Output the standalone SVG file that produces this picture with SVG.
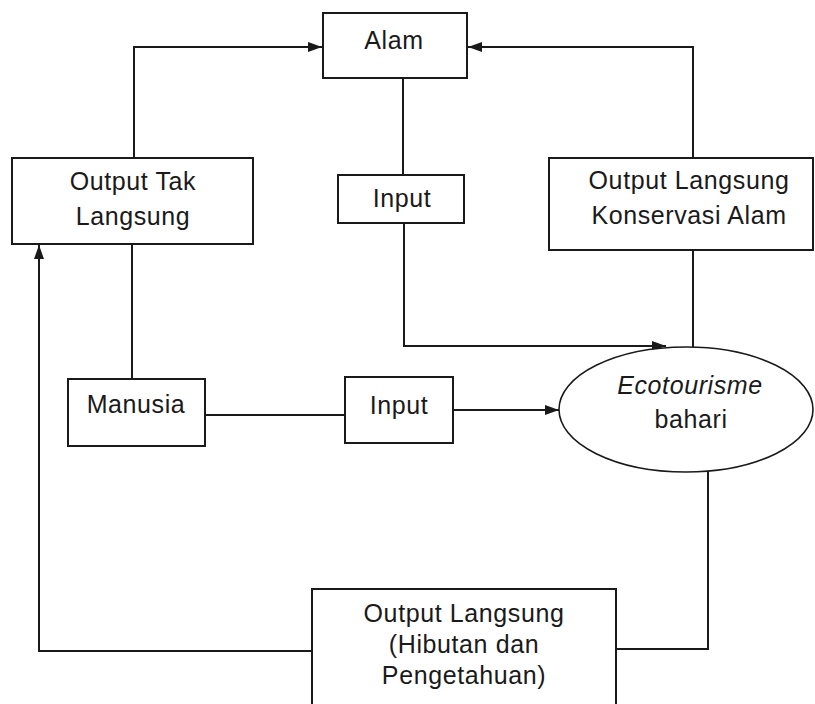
<svg xmlns="http://www.w3.org/2000/svg" width="815" height="704" viewBox="0 0 815 704">
<style>
.box{fill:#fff;stroke:#1a1a1a;stroke-width:2}
.ln{fill:none;stroke:#1a1a1a;stroke-width:2}
text{font-family:"Liberation Sans",Arial,sans-serif;font-size:25px;fill:#1a1a1a;text-anchor:middle;letter-spacing:0.6px}
</style>
<defs>
<marker id="ah" viewBox="0 0 14 10" refX="14" refY="5" markerWidth="14" markerHeight="10" markerUnits="userSpaceOnUse" orient="auto">
<path d="M0,0 L14,5 L0,10 Z" fill="#1a1a1a"/>
</marker>
</defs>
<rect width="815" height="704" fill="#fff"/>
<g id="connectors">
<polyline class="ln" points="134,158 134,47 322,47" marker-end="url(#ah)"/>
<polyline class="ln" points="693,158 693,47 468,47" marker-end="url(#ah)"/>
<line class="ln" x1="403" y1="78" x2="403" y2="175"/>
<polyline class="ln" points="404,223 404,346 666,346" marker-end="url(#ah)"/>
<line class="ln" x1="693" y1="250" x2="693" y2="348"/>
<line class="ln" x1="132" y1="244" x2="132" y2="379"/>
<line class="ln" x1="205" y1="415" x2="345" y2="415"/>
<line class="ln" x1="453" y1="410" x2="559" y2="410" marker-end="url(#ah)"/>
<polyline class="ln" points="708,471 708,649 616,649"/>
<polyline class="ln" points="312,651 39,651 39,245" marker-end="url(#ah)"/>
</g>
<g id="alam">
<rect class="box" x="323" y="13" width="144" height="65"/>
<text x="394" y="49">Alam</text>
</g>
<g id="input-top">
<rect class="box" x="338" y="175" width="126" height="48"/>
<text x="402" y="207">Input</text>
</g>
<g id="output-tak-langsung">
<rect class="box" x="12" y="158" width="241" height="86"/>
<text x="133" y="190">Output Tak</text>
<text x="133" y="225">Langsung</text>
</g>
<g id="output-konservasi">
<rect class="box" x="549" y="158" width="264" height="92"/>
<text x="689" y="189">Output Langsung</text>
<text x="689" y="224">Konservasi Alam</text>
</g>
<g id="manusia">
<rect class="box" x="68" y="379" width="137" height="67"/>
<text x="136" y="413">Manusia</text>
</g>
<g id="input-mid">
<rect class="box" x="345" y="377" width="108" height="66"/>
<text x="399" y="414">Input</text>
</g>
<g id="ecotourisme">
<ellipse cx="686" cy="409.5" rx="127" ry="62.5" fill="#fff" stroke="#1a1a1a" stroke-width="1.6"/>
<text x="690" y="394" font-style="italic">Ecotourisme</text>
<text x="691" y="428">bahari</text>
</g>
<g id="output-langsung-bottom">
<rect class="box" x="312" y="589" width="304" height="130"/>
<text x="464" y="622">Output Langsung</text>
<text x="464" y="653">(Hibutan dan</text>
<text x="464" y="684">Pengetahuan)</text>
</g>
</svg>
